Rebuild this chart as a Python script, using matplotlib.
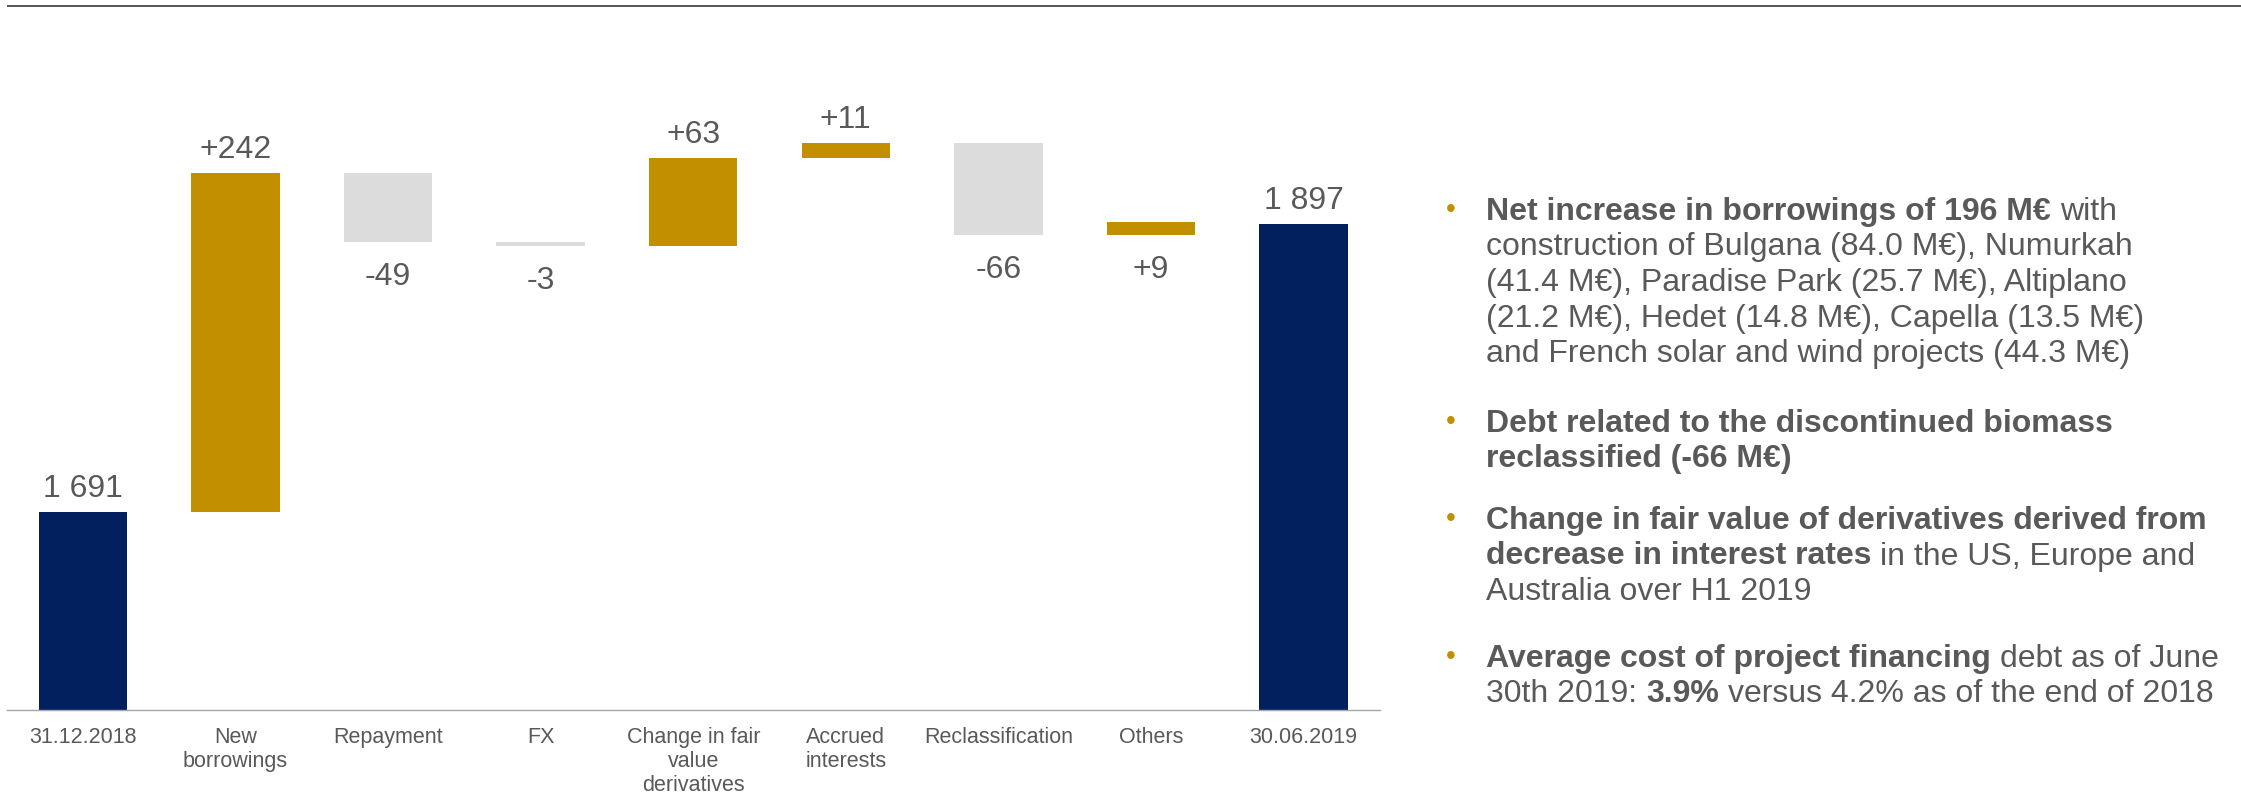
import matplotlib.pyplot as plt
from matplotlib.lines import Line2D

plt.rcParams['font.family'] = ['Liberation Sans', 'DejaVu Sans']

# Données du graphique (M€)
categories = ['31.12.2018', 'New\nborrowings', 'Repayment', 'FX',
              'Change in fair\nvalue\nderivatives', 'Accrued\ninterests',
              'Reclassification', 'Others', '30.06.2019']
start_value = 1691
deltas = [242, -49, -3, 63, 11, -66, 9]
end_value = 1897
value_labels = ['1 691', '+242', '-49', '-3', '+63', '+11', '-66', '+9', '1 897']
# étiquette au-dessus (True) ou en dessous (False) de la barre
label_above = [True, True, False, False, True, True, False, False, True]

# Commentaires à droite : (texte, gras)
bullets = [
    [[("Net increase in borrowings of 196 M€", True), (" with", False)],
     [("construction of Bulgana (84.0 M€), Numurkah", False)],
     [("(41.4 M€), Paradise Park (25.7 M€), Altiplano", False)],
     [("(21.2 M€), Hedet (14.8 M€), Capella (13.5 M€)", False)],
     [("and French solar and wind projects (44.3 M€)", False)]],
    [[("Debt related to the discontinued biomass", True)],
     [("reclassified (-66 M€)", True)]],
    [[("Change in fair value of derivatives derived from", True)],
     [("decrease in interest rates", True), (" in the US, Europe and", False)],
     [("Australia over H1 2019", False)]],
    [[("Average cost of project financing", True), (" debt as of June", False)],
     [("30th 2019: ", False), ("3.9%", True), (" versus 4.2% as of the end of 2018", False)]],
]

navy = '#03205E'
gold = '#C18F00'
light = '#DCDCDC'
text_gray = '#595959'

W, H = 2241, 793
fig = plt.figure(figsize=(W / 100, H / 100), dpi=100)
ax = fig.add_axes([0.003, 0.1047, 0.6127, 0.8197])

# Construire la cascade
bottoms, heights, colors = [0], [start_value], [navy]
level = start_value
for d in deltas:
    if d >= 0:
        bottoms.append(level)
        heights.append(d)
        colors.append(gold)
    else:
        bottoms.append(level + d)
        heights.append(-d)
        colors.append(light)
    level += d
bottoms.append(0)
heights.append(end_value)
colors.append(navy)

x = list(range(len(categories)))
ax.bar(x, heights, bottom=bottoms, width=0.58, color=colors)

ax.set_xlim(-0.5, len(categories) - 0.5)
ax.set_ylim(1550, 2014)

for i, lab in enumerate(value_labels):
    if label_above[i]:
        ax.annotate(lab, (i, bottoms[i] + heights[i]), xytext=(0, 23),
                    textcoords='offset pixels', ha='center', va='center',
                    fontsize=23, color=text_gray)
    else:
        ax.annotate(lab, (i, bottoms[i]), xytext=(0, -35),
                    textcoords='offset pixels', ha='center', va='center',
                    fontsize=23, color=text_gray)

ax.set_xticks(x)
ax.set_xticklabels(categories, fontsize=15.5, color=text_gray, linespacing=1.2)
ax.tick_params(axis='x', length=0, pad=12)
ax.set_yticks([])
for s in ['top', 'left', 'right']:
    ax.spines[s].set_visible(False)
ax.spines['bottom'].set_color('#A6A6A6')
ax.spines['bottom'].set_linewidth(1)

# Ligne en haut de la page
fig.add_artist(Line2D([8 / W, 1], [1 - 6 / H, 1 - 6 / H], color='#555555', lw=1.4))

# Texte à droite
fs = 23
renderer = fig.canvas.get_renderer()


def text_w(s, bold):
    t = fig.text(0, 0, s, fontsize=fs, fontweight='bold' if bold else 'normal')
    w = t.get_window_extent(renderer).width
    t.remove()
    return w


def space_w(bold):
    return text_w('a a', bold) - text_w('aa', bold)


para_y = [212, 424, 521, 659]
line_h = 35.5
x_bullet = 1446
x_text = 1486

for p, lines in enumerate(bullets):
    y0 = para_y[p]
    fig.text(x_bullet / W, 1 - (y0 - 2) / H, '•', fontsize=20, color=gold,
             ha='left', va='center')
    for j, runs in enumerate(lines):
        y = 1 - (y0 + j * line_h) / H
        xp = x_text
        for s, bold in runs:
            lead = len(s) - len(s.lstrip(' '))
            trail = len(s) - len(s.rstrip(' '))
            s2 = s.strip(' ')
            xp += lead * space_w(bold)
            t = fig.text(xp / W, y, s2, fontsize=fs, color=text_gray,
                         fontweight='bold' if bold else 'normal',
                         ha='left', va='center')
            xp += t.get_window_extent(renderer).width
            xp += trail * space_w(bold)

fig.savefig('out.png', dpi=100)
